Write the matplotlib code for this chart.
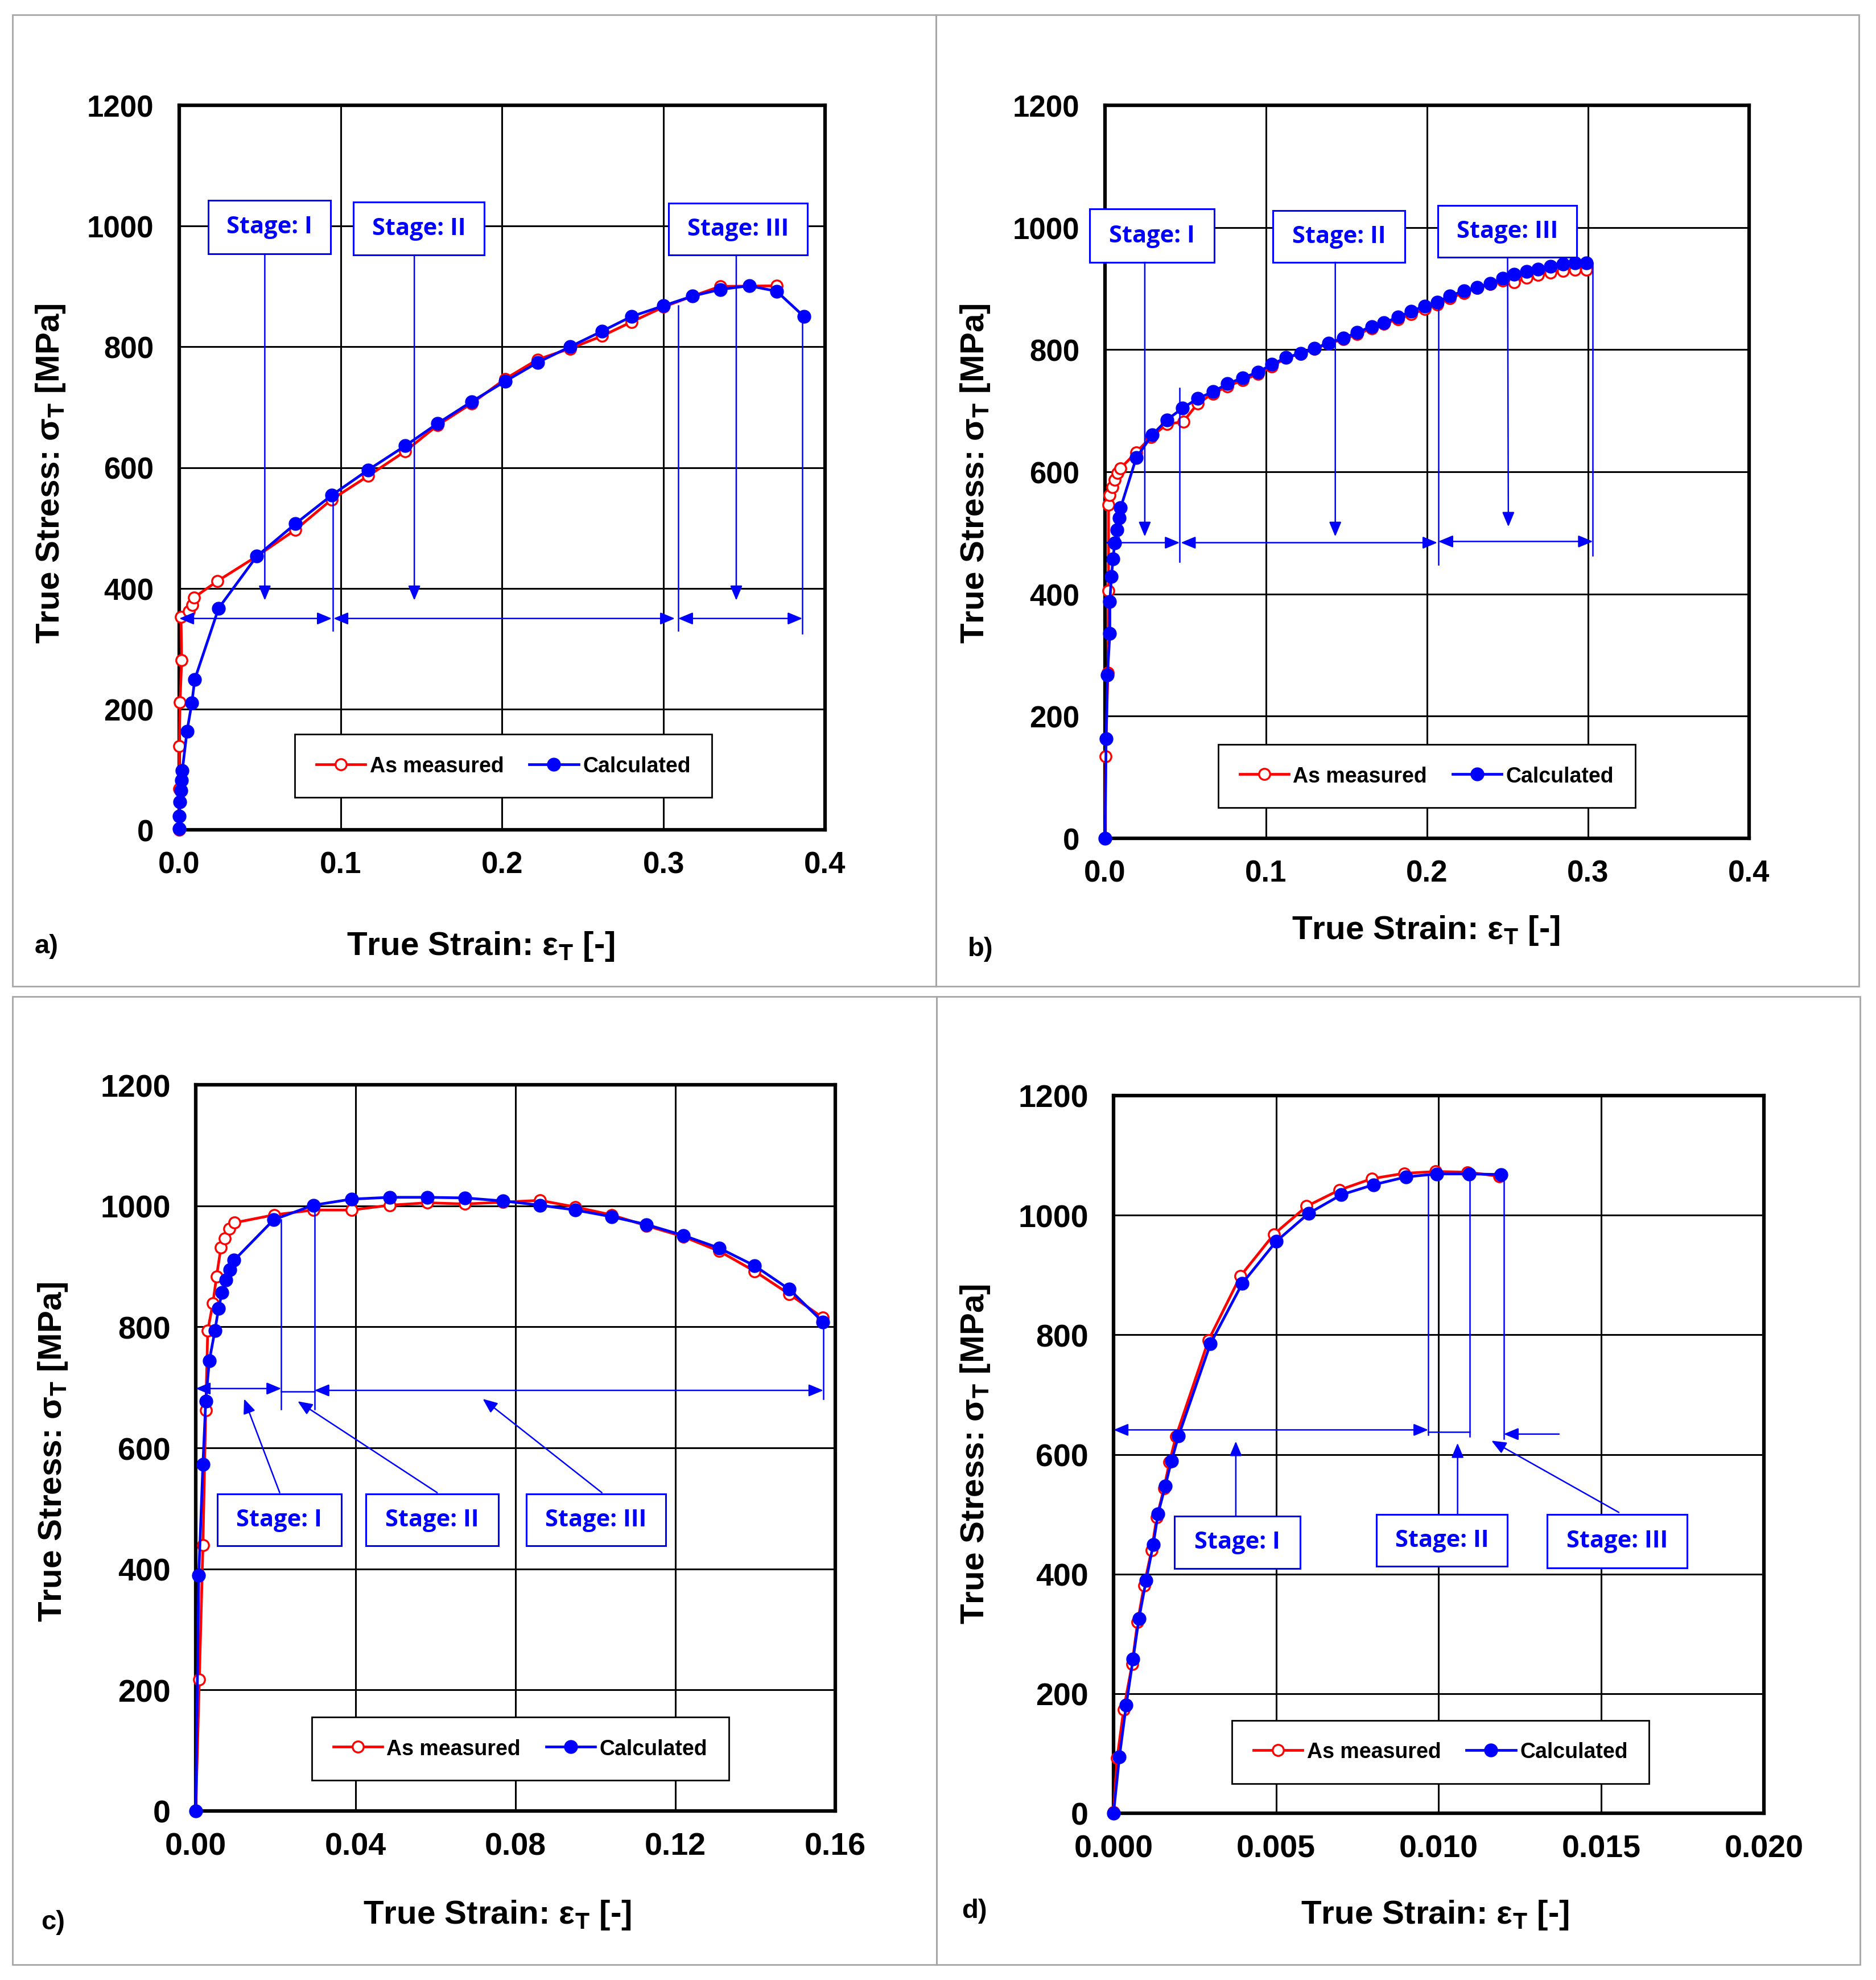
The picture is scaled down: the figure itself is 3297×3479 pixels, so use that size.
import matplotlib
matplotlib.use("Agg")
import matplotlib.pyplot as plt
from matplotlib.patches import Rectangle

plt.rcParams['font.family'] = ['Liberation Sans', 'DejaVu Sans']
plt.rcParams['font.weight'] = 'bold'
plt.rcParams['mathtext.default'] = 'regular'

RED = '#FF0000'
BLUE = '#0000FF'

# ---------------- data ----------------
# panel a
a_meas_x = [0.0, 0.0, 0.0, 0.0005, 0.0015, 0.0011, 0.006, 0.008, 0.0093, 0.0237, 0.048, 0.072, 0.0944,
            0.117, 0.140, 0.160, 0.181, 0.202, 0.222, 0.242, 0.262, 0.280, 0.300, 0.318, 0.335, 0.370]
a_meas_y = [0, 68, 139, 211, 281, 353, 362, 372, 385, 412, 453, 497, 547,
            586, 627, 670, 706, 747, 779, 797, 818, 841, 866, 884, 900, 901]
a_calc_x = [0.0, 0.0, 0.0004, 0.0011, 0.0015, 0.0019, 0.0048, 0.0078, 0.0096, 0.0244, 0.048, 0.072, 0.0944,
            0.117, 0.140, 0.160, 0.181, 0.202, 0.222, 0.242, 0.262, 0.280, 0.300, 0.318, 0.335, 0.353, 0.370, 0.387]
a_calc_y = [2, 23, 46, 65, 82, 98, 163, 210, 249, 367, 453, 507, 554,
            596, 636, 673, 709, 743, 774, 800, 826, 850, 868, 884, 895, 901, 892, 850]

# panel b
b_meas_x = [0.0, 0.0004, 0.0018, 0.0022, 0.0022, 0.003, 0.0045, 0.006, 0.0078, 0.0097,
            0.0194, 0.0286, 0.0385, 0.0486, 0.0576, 0.067, 0.076, 0.0856, 0.0949, 0.1036,
            0.1125, 0.1215, 0.130, 0.139, 0.148, 0.1566, 0.1656, 0.173, 0.182, 0.190,
            0.1985, 0.2064, 0.214, 0.2228, 0.231, 0.2392, 0.247, 0.2542, 0.262, 0.269,
            0.2766, 0.2845, 0.292, 0.299]
b_meas_y = [0, 134, 271, 405, 546, 562, 575, 587, 598, 606,
            632, 657, 678, 682, 712, 728, 740, 750, 760, 772,
            787, 793, 801, 810, 817, 825, 835, 842, 850, 858,
            866, 874, 884, 893, 901, 907, 913, 910, 918, 922,
            926, 929, 931, 931]
b_calc_x = [0.0, 0.0007, 0.0015, 0.003, 0.003, 0.004, 0.005, 0.006, 0.0075, 0.009, 0.0097,
            0.0194, 0.0295, 0.0385, 0.048, 0.0576, 0.067, 0.076, 0.0856, 0.0949,
            0.1036, 0.1125, 0.1215, 0.130, 0.139, 0.148, 0.1566, 0.1656, 0.173, 0.182,
            0.190, 0.1985, 0.2064, 0.214, 0.2228, 0.231, 0.2392, 0.247, 0.2542, 0.262,
            0.269, 0.2766, 0.2845, 0.292, 0.299]
b_calc_y = [0, 163, 267, 335, 388, 429, 457, 484, 505, 525, 541,
            623, 661, 685, 704, 720, 731, 744, 754, 763,
            776, 787, 794, 802, 811, 819, 828, 838, 844, 853,
            863, 871, 878, 888, 896, 902, 908, 917, 923, 928,
            932, 936, 940, 942, 942]

# panel c
c_meas_x = [0.0, 0.0009, 0.0018, 0.0025, 0.003, 0.0043, 0.0052, 0.0063, 0.0073, 0.0084,
            0.0097, 0.0196, 0.0294, 0.039, 0.0485, 0.058, 0.0674, 0.0769, 0.0861, 0.095,
            0.104, 0.1128, 0.122, 0.131, 0.1398, 0.1485, 0.1569]
c_meas_y = [0, 217, 439, 662, 794, 839, 883, 931, 946, 962,
            972, 985, 993, 993, 1001, 1005, 1003, 1006, 1009, 998,
            985, 967, 949, 925, 892, 854, 815]
c_calc_x = [0.0, 0.00075, 0.0018, 0.0025, 0.0034, 0.0048, 0.0057, 0.0066, 0.0075, 0.0085,
            0.0096, 0.0195, 0.0294, 0.039, 0.0485, 0.058, 0.0674, 0.0769, 0.0861, 0.095,
            0.104, 0.1128, 0.122, 0.131, 0.1398, 0.1485, 0.1569]
c_calc_y = [0, 389, 573, 677, 744, 794, 830, 857, 877, 894,
            910, 977, 1001, 1011, 1014, 1014, 1013, 1008, 1001, 993,
            982, 969, 951, 930, 901, 862, 808]

# panel d
d_meas_x = [0.0, 0.00011, 0.00031, 0.00057, 0.00074, 0.00094, 0.00117, 0.00133, 0.00155, 0.00172,
            0.00192, 0.00292, 0.0039, 0.00493, 0.00594, 0.00694, 0.00794, 0.00894, 0.00990, 0.01088, 0.01186]
d_meas_y = [2, 92, 173, 249, 320, 381, 440, 495, 543, 587,
            630, 791, 898, 968, 1015, 1042, 1061, 1070, 1073, 1072, 1065]
d_calc_x = [0.0, 0.00018, 0.00039, 0.0006, 0.00078, 0.001, 0.00122, 0.00137, 0.00159, 0.00178,
            0.002, 0.00298, 0.00396, 0.005, 0.006, 0.007, 0.008, 0.009, 0.00994, 0.01094, 0.01191]
d_calc_y = [0, 94, 181, 258, 325, 389, 449, 501, 547, 589,
            631, 785, 886, 956, 1003, 1034, 1051, 1064, 1069, 1069, 1068]

y_ticks = [0, 200, 400, 600, 800, 1000, 1200]
a_xticks = [0.0, 0.1, 0.2, 0.3, 0.4]
a_xlabels = ['0.0', '0.1', '0.2', '0.3', '0.4']
c_xticks = [0.0, 0.04, 0.08, 0.12, 0.16]
c_xlabels = ['0.00', '0.04', '0.08', '0.12', '0.16']
d_xticks = [0.0, 0.005, 0.010, 0.015, 0.020]
d_xlabels = ['0.000', '0.005', '0.010', '0.015', '0.020']
series_names = ['As measured', 'Calculated']
stage_names = ['Stage: I', 'Stage: II', 'Stage: III']

# ---------------- figure ----------------
W, H = 3298, 3480
fig = plt.figure(figsize=(W / 100, H / 100), dpi=100)
fig.patch.set_facecolor('white')

# grey panel frames
for (x0, y0, x1, y1) in [(22, 27, 1645, 1734), (1645, 27, 3267, 1734),
                         (22, 1752, 1646, 3453), (1646, 1752, 3269, 3453)]:
    fig.add_artist(Rectangle((x0 / W, 1 - y1 / H), (x1 - x0) / W, (y1 - y0) / H,
                             transform=fig.transFigure, fill=False,
                             edgecolor='#A6A6A6', lw=2))


def px_axes(l, t, r, b):
    return fig.add_axes([l / W, 1 - b / H, (r - l) / W, (b - t) / H])


def panel(ax, xlim, xticks, xlabels, mx, my, cx, cy, tsize, leg_center):
    ax.set_xlim(*xlim)
    ax.set_ylim(0, 1200)
    ax.set_xticks(xticks)
    ax.set_xticklabels(xlabels)
    ax.set_yticks(y_ticks)
    ax.set_axisbelow(True)
    ax.grid(True, color='black', lw=2.2)
    for s in ax.spines.values():
        s.set_linewidth(4.5)
        s.set_color('black')
    ax.tick_params(axis='both', length=0, labelsize=tsize)
    ax.tick_params(axis='x', pad=26)
    ax.tick_params(axis='y', pad=32)
    for lab in ax.get_xticklabels() + ax.get_yticklabels():
        lab.set_fontweight('bold')
    ax.plot(mx, my, color=RED, lw=3.4, marker='o', ms=14, mfc='white', mec=RED,
            mew=2.4, label=series_names[0], zorder=3, clip_on=False)
    ax.plot(cx, cy, color=BLUE, lw=3.4, marker='o', ms=16.5, mfc=BLUE, mec=BLUE,
            label=series_names[1], zorder=4, clip_on=False)
    leg = ax.legend(loc='center', bbox_to_anchor=leg_center, ncol=2, fontsize=27,
                    frameon=True, fancybox=False, edgecolor='black', framealpha=1,
                    borderpad=1.0, handlelength=2.3, handletextpad=0.2,
                    columnspacing=1.2, borderaxespad=0)
    leg.get_frame().set_linewidth(2)
    leg.set_zorder(8)
    for t in leg.get_texts():
        t.set_fontweight('bold')


def arrow(ax, x0, y0, x1, y1, style='-|>'):
    ax.annotate('', xy=(x1, y1), xytext=(x0, y0), annotation_clip=False,
                arrowprops=dict(arrowstyle=style + ',head_length=0.6,head_width=0.25',
                                color=BLUE, lw=1.8, shrinkA=0, shrinkB=0,
                                mutation_scale=26), zorder=6)


def vline(ax, x, y0, y1):
    ax.plot([x, x], [y0, y1], color=BLUE, lw=1.8, zorder=5, clip_on=False)


def stage_box(ax, x0, x1, y0, y1, text):
    ax.add_patch(Rectangle((x0, y0), x1 - x0, y1 - y0, facecolor='white',
                           edgecolor=BLUE, lw=2.2, zorder=6, clip_on=False))
    ax.text((x0 + x1) / 2, (y0 + y1) / 2, text, ha='center', va='center',
            fontsize=30, family=['Open Sans', 'DejaVu Sans'], fontweight='bold',
            color=BLUE, zorder=7)


# ---- panel a ----
axa = px_axes(315, 186, 1450, 1459)
panel(axa, (0, 0.4), a_xticks, a_xlabels, a_meas_x, a_meas_y, a_calc_x, a_calc_y, 38, (0.502, 0.088))
arrow(axa, 0.0, 350, 0.0945, 350, '<|-|>')
arrow(axa, 0.0955, 350, 0.307, 350, '<|-|>')
arrow(axa, 0.309, 350, 0.386, 350, '<|-|>')
vline(axa, 0.095, 554, 330)
vline(axa, 0.309, 868, 330)
vline(axa, 0.386, 850, 325)
stage_box(axa, 0.0178, 0.0937, 954, 1043, stage_names[0])
stage_box(axa, 0.108, 0.189, 952, 1040, stage_names[1])
stage_box(axa, 0.303, 0.389, 952, 1038, stage_names[2])
arrow(axa, 0.053, 954, 0.053, 380)
arrow(axa, 0.1456, 952, 0.1456, 380)
arrow(axa, 0.345, 952, 0.345, 380)

# ---- panel b ----
axb = px_axes(1942, 186, 3074, 1474)
panel(axb, (0, 0.4), a_xticks, a_xlabels, b_meas_x, b_meas_y, b_calc_x, b_calc_y, 38, (0.4995, 0.085))
arrow(axb, 0.0, 484, 0.0464, 484, '<|-|>')
arrow(axb, 0.0471, 484, 0.2064, 484, '<|-|>')
arrow(axb, 0.207, 486, 0.303, 486, '<|-|>')
vline(axb, 0.0464, 737, 453)
vline(axb, 0.207, 880, 448)
vline(axb, 0.303, 942, 463)
stage_box(axb, -0.0097, 0.0677, 943, 1030, stage_names[0])
stage_box(axb, 0.1043, 0.1862, 943, 1028, stage_names[1])
stage_box(axb, 0.2067, 0.2931, 951, 1036, stage_names[2])
arrow(axb, 0.0247, 943, 0.0247, 494)
arrow(axb, 0.143, 943, 0.143, 494)
arrow(axb, 0.25, 951, 0.2505, 510)

# ---- panel c ----
axc = px_axes(344, 1907, 1468, 3183)
panel(axc, (0, 0.16), c_xticks, c_xlabels, c_meas_x, c_meas_y, c_calc_x, c_calc_y, 40, (0.5075, 0.0858))
arrow(axc, 0.0, 698, 0.0214, 698, '<|-|>')
axc.plot([0.0214, 0.0297], [693, 693], color=BLUE, lw=1.8, zorder=5)
arrow(axc, 0.0297, 695, 0.157, 695, '<|-|>')
vline(axc, 0.0214, 977, 664)
vline(axc, 0.0297, 1001, 664)
vline(axc, 0.157, 808, 681)
stage_box(axc, 0.0054, 0.0364, 438, 524, stage_names[0])
stage_box(axc, 0.0425, 0.0757, 438, 524, stage_names[1])
stage_box(axc, 0.0827, 0.1176, 438, 524, stage_names[2])
arrow(axc, 0.021, 526, 0.0121, 681)
arrow(axc, 0.0604, 526, 0.0255, 677)
arrow(axc, 0.1016, 526, 0.0718, 681)

# ---- panel d ----
axd = px_axes(1957, 1926, 3100, 3187)
panel(axd, (0, 0.02), d_xticks, d_xlabels, d_meas_x, d_meas_y, d_calc_x, d_calc_y, 40, (0.5028, 0.0854))
arrow(axd, 0.0, 641, 0.00968, 641, '<|-|>')
axd.plot([0.00968, 0.01095], [638, 638], color=BLUE, lw=1.8, zorder=5)
arrow(axd, 0.0137, 634, 0.0120, 634)
vline(axd, 0.00968, 1069, 633)
vline(axd, 0.01095, 1069, 630)
vline(axd, 0.0120, 1068, 626)
stage_box(axd, 0.00187, 0.00574, 409, 497, stage_names[0])
stage_box(axd, 0.00809, 0.0121, 413, 500, stage_names[1])
stage_box(axd, 0.01334, 0.01763, 410, 500, stage_names[2])
arrow(axd, 0.00376, 497, 0.00376, 622)
arrow(axd, 0.01058, 500, 0.01058, 619)
arrow(axd, 0.01554, 503, 0.01162, 623)

# ---- axis titles and panel letters (figure pixel positions) ----
ylab = 'True Stress: σ$_T$ [MPa]'
xlab = 'True Strain: ε$_T$ [-]'
for (xx, yy) in [(89, 832), (1714, 832), (93, 2551), (1714, 2555)]:
    fig.text(xx / W, 1 - yy / H, ylab, rotation=90, ha='center', va='center',
             fontsize=42, fontweight='bold')
for (xx, yy) in [(845, 1663), (2506, 1635), (874, 3365), (2522, 3365)]:
    fig.text(xx / W, 1 - yy / H, xlab, ha='center', va='center',
             fontsize=42, fontweight='bold')
for (xx, yy, t) in [(82, 1663, 'a)'), (1723, 1668, 'b)'), (93, 3378, 'c)'), (1712, 3358, 'd)')]:
    fig.text(xx / W, 1 - yy / H, t, ha='center', va='center', fontsize=34, fontweight='bold')

fig.savefig('out.png', dpi=100, facecolor='white')
